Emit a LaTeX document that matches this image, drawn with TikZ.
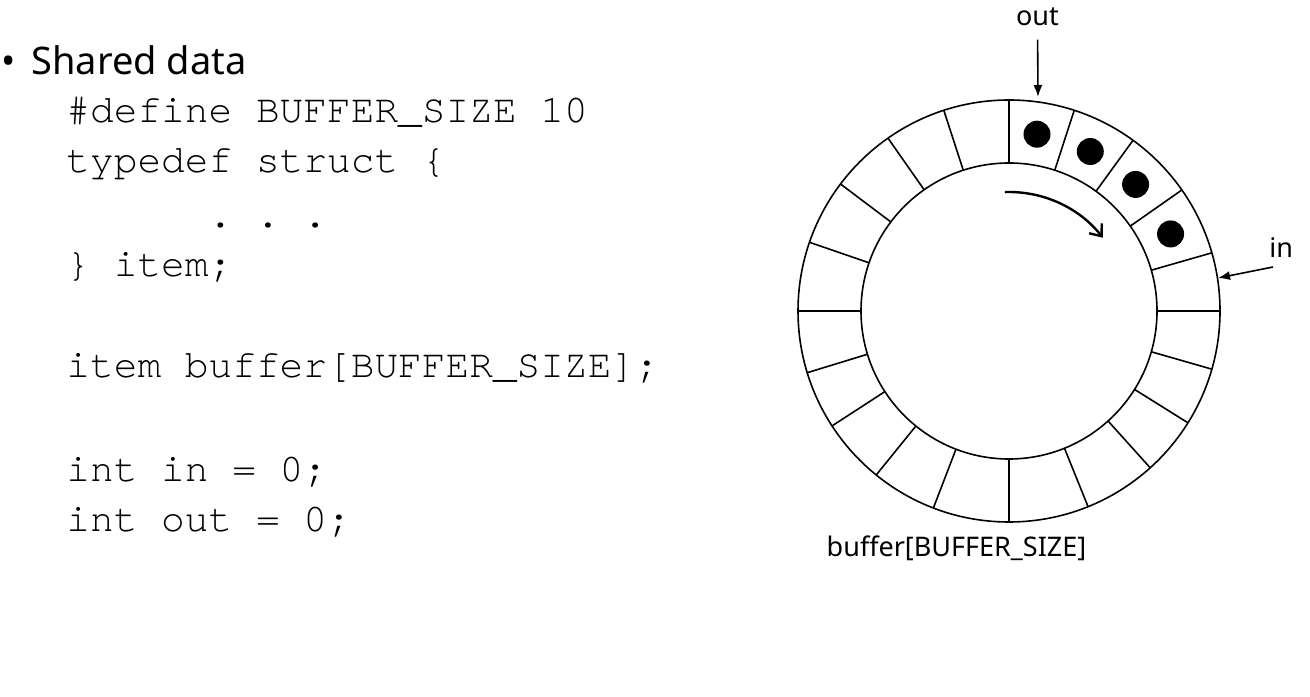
\documentclass[tikz,border=0pt]{standalone}
\usepackage{fontspec}
\setmainfont{Noto Sans}
\setmonofont[Ligatures={NoCommon,NoRequired,NoContextual}]{TeX Gyre Cursor}
\usetikzlibrary{arrows.meta,calc}
\begin{document}
\frenchspacing
\begin{tikzpicture}[x=0.5pt,y=0.5pt,
  ring/.style={line width=0.8pt},
  code/.style={anchor=base west, inner sep=0pt, font=\ttfamily\fontsize{19.75pt}{20pt}\selectfont},
  lbl/.style={inner sep=0pt, font=\fontsize{13.5pt}{14pt}\selectfont},
  head/.style={inner sep=0pt, font=\fontsize{19pt}{20pt}\selectfont},
  slot/.style={fill=black, circle, inner sep=0pt, minimum size=13.5pt},
  ptr/.style={-{Latex[length=6pt,width=4.5pt]}, line width=0.8pt},
  turn/.style={-{Straight Barb[length=5pt,width=8pt]}, line width=1.2pt}]
\useasboundingbox (0,0) rectangle (1310,696);

% left text
\node[head, anchor=base] (bul) at (9,621) {•};
\node[head, anchor=base west] (shared) at (31,621) {Shared data};
\node[code] (c1) at (66,573) {\#define BUFFER\_SIZE 10};
\node[code] (c2) at (66,523) {typedef struct \{};
\node[code] (c3) at (66,468) {\phantom{xxxxxx}. . .};
\node[code] (c4) at (66,419) {\} item;};
\node[code] (c5) at (66,318) {item buffer[BUFFER\_SIZE];};
\node[code] (c6) at (66,214) {int in = 0;};
\node[code] (c7) at (66,165) {int out = 0;};

% ring buffer
\coordinate (C) at (1009,385);
\draw[ring] (C) circle[radius=211];
\draw[ring] (C) circle[radius=148];
\foreach \a in {0,16,35,54,72,90,108,125,143,161,180,197,213,231,249,270,292,312,328,344}
  \draw[ring] ($(C)+(\a:148)$) -- ($(C)+(\a:211)$);
\foreach \a/\n in {81/1,63/2,45/3,25.5/4}
  \node[slot] (d\n) at ($(C)+(\a:179)$) {};

% pointers
\node[lbl, anchor=base] (outl) at (1037.5,670) {out};
\coordinate (outtip) at (1038,599);
\draw[ptr, shorten <=6.5pt] (outl.south) -- (outtip);

\node[lbl, anchor=base west] (inl) at (1269,438) {in};
\coordinate (intail) at (1273,429);
\coordinate (intip) at (1218,418);
\draw[ptr] (intail) -- (intip);

\draw[turn] ($(C)+(92:119)$) arc[start angle=92, end angle=38, radius=119];

\node[lbl, anchor=base] (bl) at (956.5,140) {buffer[BUFFER\_SIZE]};
\end{tikzpicture}
\end{document}
